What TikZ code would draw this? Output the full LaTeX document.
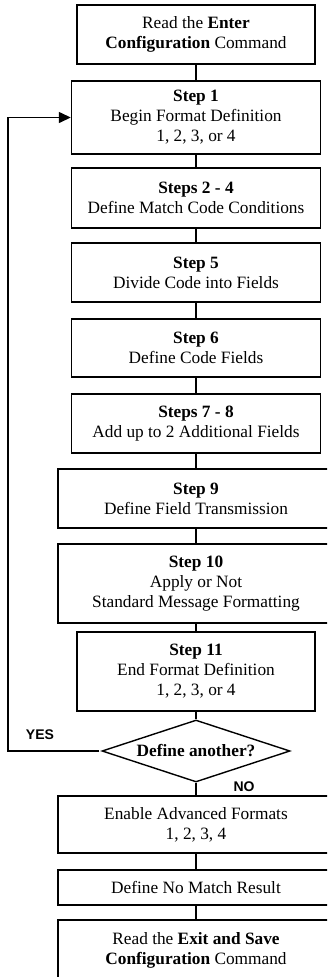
\documentclass[tikz,border=0pt]{standalone}
\usepackage{fontspec}
\setmainfont{Liberation Serif}
\newfontfamily\arialfont{Liberation Sans}
\usetikzlibrary{shapes.geometric,arrows.meta}
\tikzset{
  box/.style={draw=black, line width=1.4pt, fill=white, inner sep=0pt, align=center,
    font=\fontsize{17.3}{20}\selectfont},
  flowline/.style={draw=black, line width=1.4pt},
  decision/.style={draw=black, line width=1.4pt, fill=white, shape=diamond, aspect=3.03,
    inner sep=0pt, minimum width=188pt, minimum height=62pt, font=\fontsize{17.3}{20}\selectfont\bfseries},
  answer/.style={font=\arialfont\bfseries\fontsize{14}{16}\selectfont, inner sep=0pt}
}
\begin{document}
\begin{tikzpicture}[x=1pt,y=-1pt]
\useasboundingbox (0,0) rectangle (327,977);
\clip (0,0) rectangle (327,977);
\fill[white] (0,0) rectangle (327,977);

\node[box, minimum width=238pt, minimum height=59pt] (top) at (196,34.5)
  {Read the \textbf{Enter}\\\textbf{Configuration} Command};
\node[box, minimum width=249pt, minimum height=73pt] (s1) at (196,117.5)
  {\textbf{Step 1}\\Begin Format Definition\\1, 2, 3, or 4};
\node[box, minimum width=249pt, minimum height=60pt] (s2) at (196,198)
  {\textbf{Steps 2 - 4}\\Define Match Code Conditions};
\node[box, minimum width=249pt, minimum height=59pt] (s5) at (196,272.5)
  {\textbf{Step 5}\\Divide Code into Fields};
\node[box, minimum width=249pt, minimum height=58pt] (s6) at (196,348)
  {\textbf{Step 6}\\Define Code Fields};
\node[box, minimum width=249pt, minimum height=59pt] (s7) at (196,423.5)
  {\textbf{Steps 7 - 8}\\Add up to 2 Additional Fields};
\node[box, minimum width=276pt, minimum height=59pt] (s9) at (196,498.5)
  {\textbf{Step 9}\\Define Field Transmission};
\node[box, minimum width=276pt, minimum height=79pt] (s10) at (196,583.5)
  {\textbf{Step 10}\\Apply or Not\\Standard Message Formatting};
\node[box, minimum width=238pt, minimum height=79pt] (s11) at (196,671.5)
  {\textbf{Step 11}\\End Format Definition\\1, 2, 3, or 4};
\node[decision] (dia) at (196,751) {Define another?};
\node[box, minimum width=276pt, minimum height=57pt] (en) at (196,824.5)
  {Enable Advanced Formats\\1, 2, 3, 4};
\node[box, minimum width=276pt, minimum height=35pt] (nm) at (196,887.5)
  {Define No Match Result};
\node[box, minimum width=276pt, minimum height=60pt] (ex) at (196,950)
  {Read the \textbf{Exit and Save}\\\textbf{Configuration} Command};

\node[answer] (yes) at (40,735) {YES};
\node[answer] (no) at (244,787) {NO};

\draw[flowline] (top.south) -- (s1.north);
\draw[flowline] (s1.south) -- (s2.north);
\draw[flowline] (s2.south) -- (s5.north);
\draw[flowline] (s5.south) -- (s6.north);
\draw[flowline] (s6.south) -- (s7.north);
\draw[flowline] (s7.south) -- (s9.north);
\draw[flowline] (s9.south) -- (s10.north);
\draw[flowline] (s10.south) -- (s11.north);
\draw[flowline] (s11.south) -- (dia.north);
\draw[flowline] (dia.south) -- (en.north);
\draw[flowline] (en.south) -- (nm.north);
\draw[flowline] (nm.south) -- (ex.north);

\coordinate (loopcorner) at (8,117.5);
\draw[flowline, -{Triangle[length=12pt,width=11pt]}] ([xshift=-2pt]dia.west) -| (loopcorner) -- (s1.west);
\end{tikzpicture}
\end{document}
